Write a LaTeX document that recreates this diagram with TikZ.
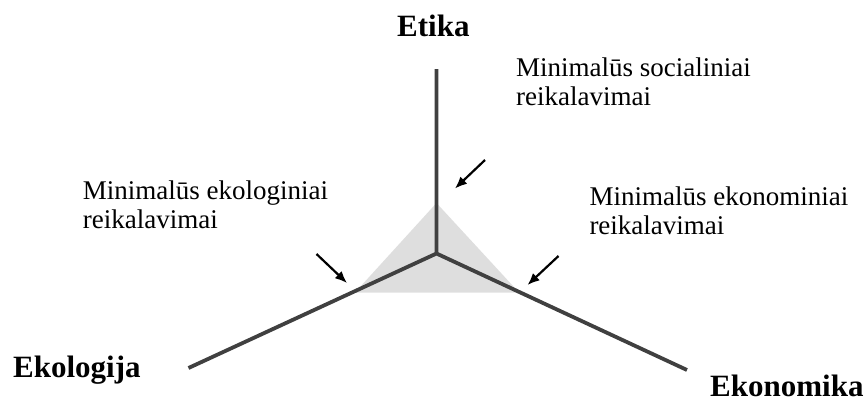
\documentclass[tikz,border=0pt]{standalone}
\usepackage{fontspec}
\setmainfont{Liberation Serif}
\usetikzlibrary{arrows.meta}
\usetikzlibrary{positioning}

\tikzset{
    axis/.style={draw=black!75, line width=3.8pt},
    req/.style={anchor=base west, inner sep=0pt, align=left, font=\fontsize{27}{28.5}\selectfont},
    dim/.style={anchor=base west, inner sep=0pt, font=\fontsize{31}{33}\selectfont\bfseries},
    hint/.style={draw=black, line width=2.2pt, -{Latex[length=12pt,width=10pt]}}
}

\begin{document}
\begin{tikzpicture}[x=1pt, y=-1pt, >=latex]

\useasboundingbox (0,0) rectangle (867,399);

\coordinate (mid) at (436.5,253.5);
\coordinate (etika) at (436.5,69);
\coordinate (ekol) at (188.5,368);
\coordinate (ekon) at (687,370);

% minimal area
\fill[black!13] (436.5,203) -- (355,292.5) -- (519,292.5) -- cycle;

\draw[axis] (etika) -- (mid) -- (ekol)
    (mid) -- (ekon);

\node[dim] (etikalbl) at (397,36) {Etika};
\node[dim] (ekollbl) at (13,377) {Ekologija};
\node[dim] (ekonlbl) at (710,396) {Ekonomika};

\node[req] (soc) at (516,105) {Minimalūs socialiniai\\reikalavimai};
\node[req] (ekolreq) at (82.7,228.3) {Minimalūs ekologiniai\\reikalavimai};
\node[req] (ekonreq) at (589.3,234.3) {Minimalūs ekonominiai\\reikalavimai};

\coordinate (socA) at (485,160);
\coordinate (socB) at (455,188.5);
\coordinate (ekolA) at (316.5,254);
\coordinate (ekolB) at (347,283);
\coordinate (ekonA) at (558.5,256);
\coordinate (ekonB) at (527.5,285);

\draw[hint] (socA) -- (socB);
\draw[hint] (ekolA) -- (ekolB);
\draw[hint] (ekonA) -- (ekonB);

\end{tikzpicture}
\end{document}
